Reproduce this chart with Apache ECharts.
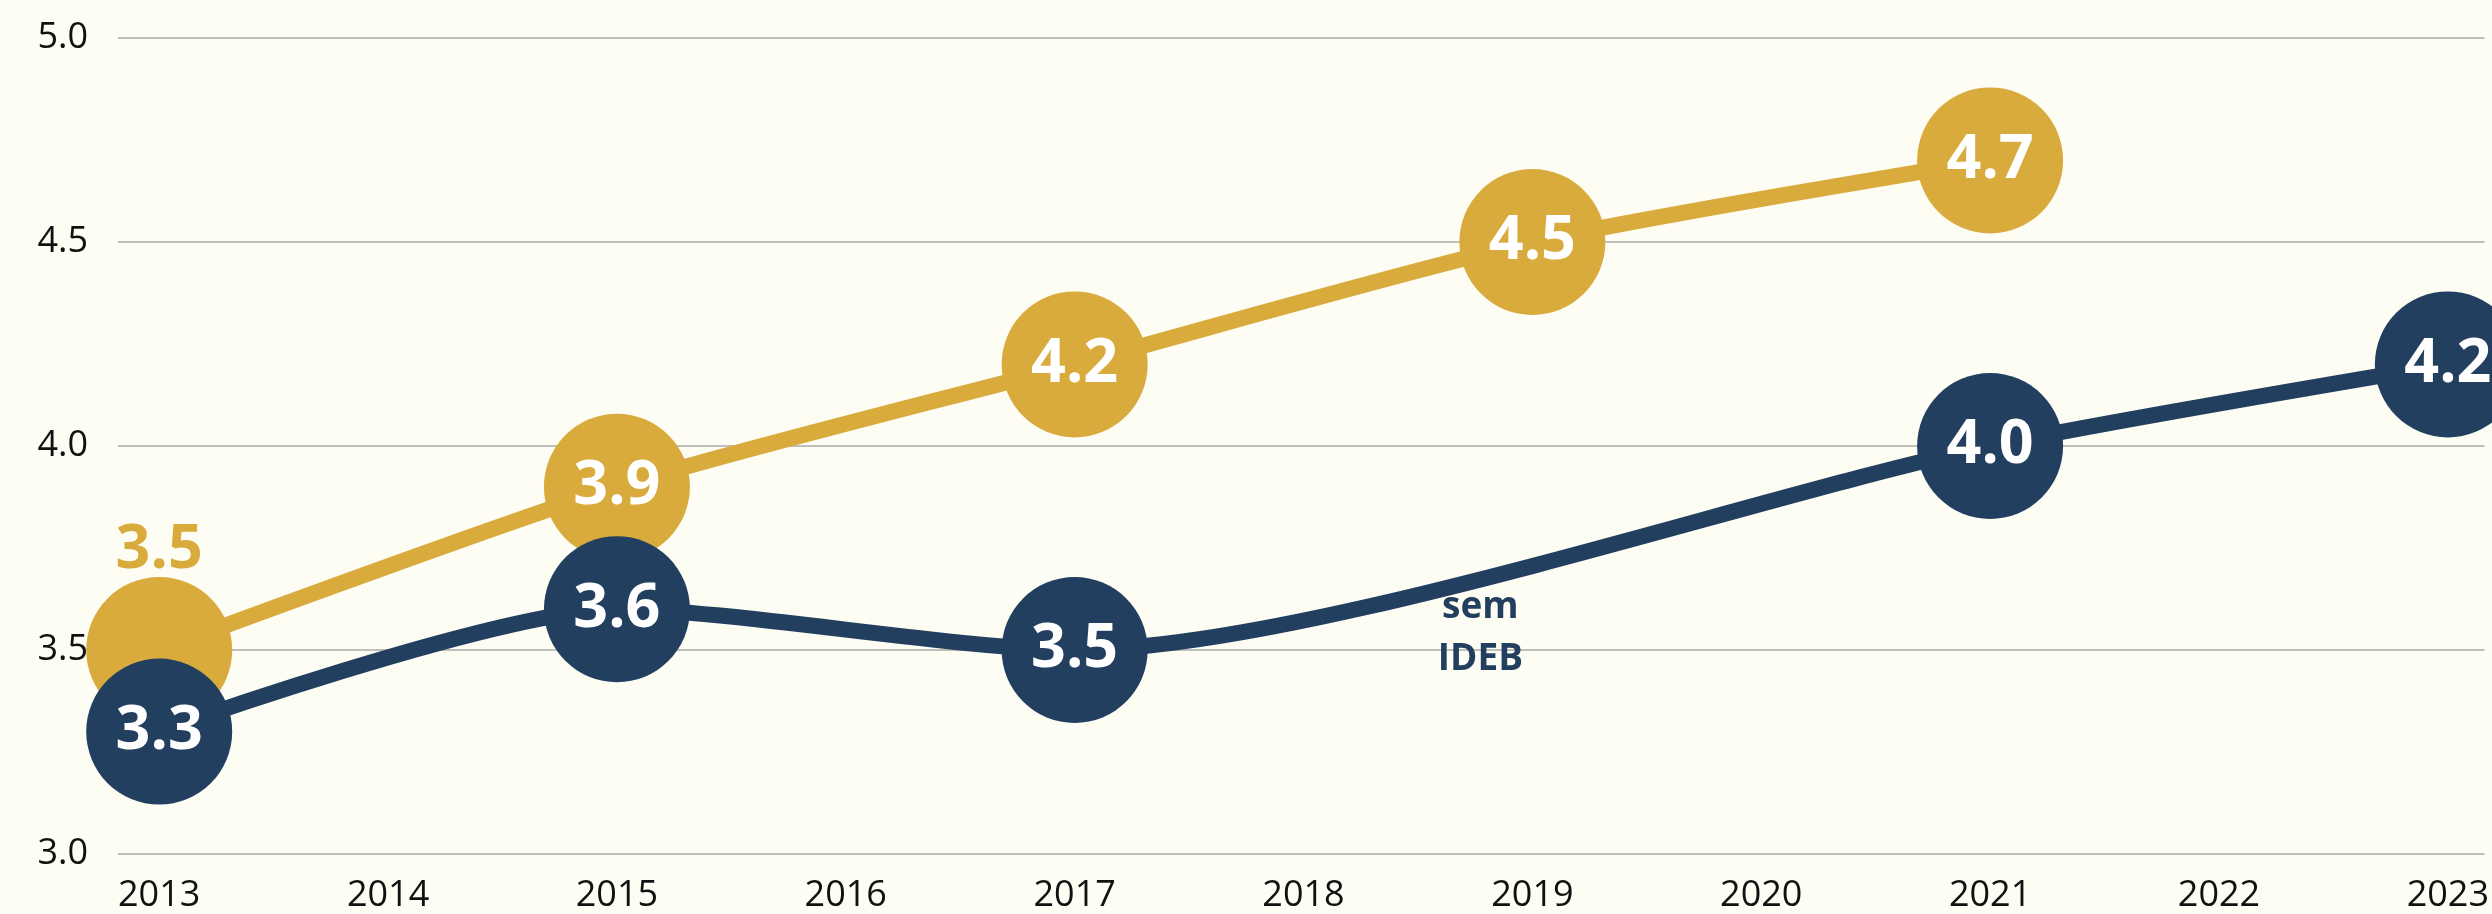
<!DOCTYPE html>
<html>
<head>
<meta charset="utf-8">
<title>IDEB</title>
<script src="https://cdn.jsdelivr.net/npm/echarts@6/dist/echarts.min.js"></script>
<style>
    html, body { margin: 0; padding: 0; background: #fdfdf4; }
    #chart { width: 2492px; height: 914px; }
</style>
</head>
<body>
<div id="chart"></div>
<script>
// eixo x: anos
var years = [2013, 2014, 2015, 2016, 2017, 2018, 2019, 2020, 2021, 2022, 2023]
// anos com resultado do IDEB
var surveyYears = [2013, 2015, 2017, 2019, 2021, 2023]
var goldValues = [3.5, 3.9, 4.2, 4.5, 4.7, null]
var navyValues = [3.3, 3.6, 3.5, null, 4.0, 4.2]
var yTicks = [3.0, 3.5, 4.0, 4.5, 5.0]
var noteLines = ['sem', 'IDEB'] // 2019 sem resultado
var noteYear = 2019

var GOLD = '#d9ab3d'
var NAVY = '#233f5f'
var FONT = "'Open Sans', 'Noto Sans', sans-serif"

function toPairs(values) {
    var out = []
    values.forEach(function (v, i) {
        if (v !== null) out.push([surveyYears[i], v])
    })
    return out
}

var goldData = toPairs(goldValues).map(function (p, i) {
    // primeiro ponto: rótulo acima, pois o círculo azul cobre o dourado
    if (i === 0) {
        return { value: p, label: { position: 'top', distance: -4, color: GOLD } }
    }
    return { value: p }
})
var navyData = toPairs(navyValues)

var circleLabel = {
    show: true,
    position: 'inside',
    color: '#ffffff',
    fontFamily: FONT,
    fontWeight: 'bold',
    fontSize: 61,
    formatter: function (p) { return p.value[1].toFixed(1) }
}

var chart = echarts.init(document.getElementById('chart'))
var option = {
    backgroundColor: '#fdfdf4',
    animation: false,
    grid: { left: 118, right: 0, top: 38, bottom: 55, containLabel: false },
    xAxis: {
        type: 'value',
        min: 2012.82,
        max: 2023.16,
        splitLine: { show: false },
        axisLine: { show: false },
        axisTick: { show: false },
        axisLabel: {
            customValues: years,
            formatter: function (v) { return String(v) },
            color: '#111111',
            fontFamily: FONT,
            fontSize: 36,
            margin: 24
        }
    },
    yAxis: {
        type: 'value',
        min: yTicks[0],
        max: yTicks[yTicks.length - 1],
        interval: 0.5,
        axisLine: { show: false },
        axisTick: { show: false },
        splitLine: { lineStyle: { color: '#bfbfbb', width: 2 } },
        axisLabel: {
            formatter: function (v) { return v.toFixed(1) },
            color: '#111111',
            fontFamily: FONT,
            fontSize: 36,
            margin: 30
        }
    },
    series: [
        {
            name: 'gold',
            type: 'line',
            data: goldData,
            smooth: 0.25,
            symbol: 'circle',
            symbolSize: 146,
            lineStyle: { color: GOLD, width: 16 },
            itemStyle: { color: GOLD },
            label: circleLabel,
            z: 2
        },
        {
            name: 'navy',
            type: 'line',
            data: navyData,
            smooth: 0.25,
            symbol: 'circle',
            symbolSize: 146,
            lineStyle: { color: NAVY, width: 16 },
            itemStyle: { color: NAVY },
            label: circleLabel,
            z: 3,
            markPoint: {
                symbol: 'circle',
                symbolSize: 0,
                data: [{
                    coord: [noteYear, 3.54],
                    label: {
                        show: true,
                        position: 'inside',
                        offset: [-52, 0],
                        formatter: noteLines.join('\n'),
                        color: NAVY,
                        fontFamily: FONT,
                        fontWeight: 'bold',
                        fontSize: 37,
                        lineHeight: 52,
                        align: 'center'
                    }
                }]
            }
        }
    ]
}
chart.setOption(option)
window.addEventListener('resize', function () { chart.resize() })
</script>
</body>
</html>
